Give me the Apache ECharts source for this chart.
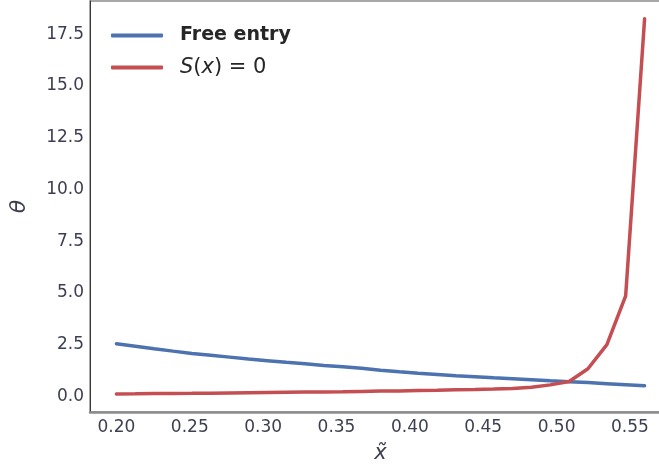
<!DOCTYPE html>
<html>
<head>
<meta charset="utf-8">
<script src="https://cdn.jsdelivr.net/npm/echarts@6/dist/echarts.min.js"></script>
<style>html,body{margin:0;padding:0;background:#fff}#c{width:659px;height:467px}</style>
</head>
<body>
<div id="c"></div>
<script>
const xValues = [0.2000,0.2129,0.2257,0.2386,0.2514,0.2643,0.2771,0.2900,0.3029,0.3157,0.3286,0.3414,0.3543,0.3671,0.3800,0.3929,0.4057,0.4186,0.4314,0.4443,0.4571,0.4700,0.4829,0.4957,0.5086,0.5214,0.5343,0.5471,0.5600];
const freeEntry = [2.55,2.43,2.31,2.19,2.08,1.99,1.90,1.81,1.73,1.65,1.58,1.50,1.43,1.36,1.27,1.19,1.12,1.06,1.00,0.95,0.90,0.86,0.81,0.76,0.71,0.67,0.62,0.57,0.52];
const sZero = [0.12,0.13,0.14,0.145,0.15,0.16,0.17,0.18,0.19,0.20,0.21,0.22,0.23,0.245,0.26,0.27,0.285,0.30,0.32,0.34,0.36,0.39,0.45,0.56,0.72,1.34,2.50,4.86,18.24];
const xTicks = [0.20,0.25,0.30,0.35,0.40,0.45,0.50,0.55];
const yTicks = [0,2.5,5,7.5,10,12.5,15,17.5];

const fontFam = '"DejaVu Sans", sans-serif';
const labelColor = '#3d3f50';
const chart = echarts.init(document.getElementById('c'));
chart.setOption({
  animation: false,
  backgroundColor: '#fff',
  grid: {left: 90, top: 1, width: 581, height: 411, show: true, borderColor: '#8c8c8c', borderWidth: 1.5, containLabel: false, outerBoundsMode: 'none'},
  legend: {
    left: 106, top: 21, orient: 'vertical', itemWidth: 52, itemHeight: 4, itemGap: 12,
    icon: 'roundRect',
    data: ['Free entry', 'S(x) = 0'],
    formatter: function (n) { return n === 'Free entry' ? '{b|Free entry}' : '{i|S}{r|(}{i|x}{r|) = 0}'; },
    textStyle: {
      padding: [0, 0, 0, 12],
      rich: {
        b: {fontFamily: fontFam, fontSize: 19, fontWeight: 'bold', color: '#262626', height: 24},
        i: {fontFamily: fontFam, fontSize: 21, fontStyle: 'italic', color: '#262626', height: 24},
        r: {fontFamily: fontFam, fontSize: 21, color: '#262626', height: 24}
      }
    }
  },
  xAxis: {
    type: 'value', min: 0.182, max: 0.578,
    name: 'x\u0303', nameLocation: 'middle', nameGap: 31,
    nameTextStyle: {fontFamily: fontFam, fontSize: 21, fontStyle: 'italic', color: labelColor},
    axisLine: {show: true, onZero: false, lineStyle: {color: '#8c8c8c', width: 2.5}},
    axisTick: {show: false},
    splitLine: {show: false},
    axisLabel: {customValues: xTicks, formatter: v => v.toFixed(2), margin: 7, fontFamily: fontFam, fontSize: 17, color: labelColor}
  },
  yAxis: {
    type: 'value', min: -0.75, max: 19.1,
    name: 'θ', nameLocation: 'middle', nameGap: 60, nameRotate: 90,
    nameTextStyle: {fontFamily: fontFam, fontSize: 22, fontStyle: 'italic', color: labelColor},
    axisLine: {show: true, onZero: false, lineStyle: {color: '#3a3a3a', width: 1}},
    axisTick: {show: false},
    splitLine: {show: false},
    axisLabel: {customValues: yTicks, formatter: v => v.toFixed(1), margin: 6, fontFamily: fontFam, fontSize: 17, color: labelColor}
  },
  series: [
    {name: 'Free entry', type: 'line', symbol: 'none', smooth: false, data: xValues.map((x, i) => [x, freeEntry[i]]),
     lineStyle: {color: '#4c72b0', width: 3.5, cap: 'round'}, itemStyle: {color: '#4c72b0'}},
    {name: 'S(x) = 0', type: 'line', symbol: 'none', smooth: false, data: xValues.map((x, i) => [x, sZero[i]]),
     lineStyle: {color: '#c44e52', width: 3.5, cap: 'round'}, itemStyle: {color: '#c44e52'}}
  ]
});
</script>
</body>
</html>
